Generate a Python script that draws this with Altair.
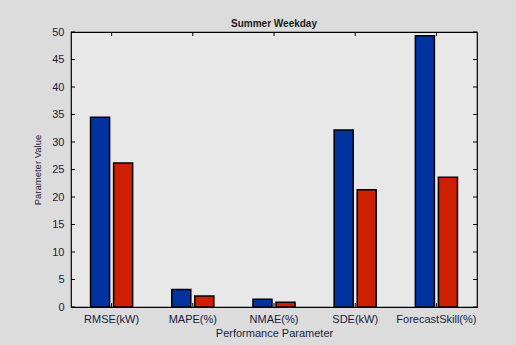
import altair as alt
import pandas as pd

# Performance parameters (x categories) and the two compared series
categories = ["RMSE(kW)", "MAPE(%)", "NMAE(%)", "SDE(kW)", "ForecastSkill(%)"]
series_names = ["Model A", "Model B"]
values_a = [34.5, 3.2, 1.4, 32.2, 49.3]
values_b = [26.2, 2.0, 0.85, 21.3, 23.6]
y_ticks = [0, 5, 10, 15, 20, 25, 30, 35, 40, 45, 50]

rows = []
for c, a, b in zip(categories, values_a, values_b):
    rows.append({"param": c, "series": series_names[0], "value": a})
    rows.append({"param": c, "series": series_names[1], "value": b})
bars_df = pd.DataFrame(rows)
ticks_df = pd.DataFrame({"v": y_ticks})
cat_df = pd.DataFrame({"param": categories})

W, H = 406, 275

x_scale = alt.Scale(domain=categories, paddingInner=0, paddingOuter=0)
y_scale = alt.Scale(domain=[0, 50], nice=False)

# Shared axis definitions, used identically by every layer so they merge cleanly
x_axis = alt.Axis(
    labelAngle=0,
    ticks=False,
    domain=False,
    labelPadding=6,
    labelFontSize=11,
    titleFontSize=11,
    titlePadding=3,
    labelColor="#1a1a40",
    titleColor="#1a1a40",
    titleFontWeight="normal",
)
y_axis = alt.Axis(
    values=y_ticks,
    labelOverlap=False,
    ticks=False,
    domain=False,
    grid=False,
    labelPadding=7,
    labelFontSize=11,
    titleFontSize=9.5,
    titlePadding=9,
    labelColor="#1a1a40",
    titleColor="#1a1a40",
    titleFontWeight="normal",
)
X_TITLE = "Performance Parameter"
Y_TITLE = "Parameter Value"

bars = alt.Chart(bars_df).mark_bar(stroke="black", strokeWidth=1.5).encode(
    x=alt.X("param:N", sort=categories, scale=x_scale, title=X_TITLE, axis=x_axis),
    xOffset=alt.XOffset(
        "series:N",
        sort=series_names,
        scale=alt.Scale(paddingInner=0.174, paddingOuter=0.848),
    ),
    y=alt.Y("value:Q", scale=y_scale, title=Y_TITLE, axis=y_axis),
    color=alt.Color(
        "series:N",
        sort=series_names,
        scale=alt.Scale(domain=series_names, range=["#0033a0", "#cc2000"]),
        legend=None,
    ),
)

# Inward-pointing tick marks on the left and right edges of the frame
left_ticks = alt.Chart(ticks_df).mark_rule(color="black", strokeWidth=1).encode(
    y=alt.Y("v:Q", scale=y_scale, title=Y_TITLE, axis=y_axis),
    x=alt.value(0),
    x2=alt.value(4),
)
right_ticks = alt.Chart(ticks_df).mark_rule(color="black", strokeWidth=1).encode(
    y=alt.Y("v:Q", scale=y_scale, title=Y_TITLE, axis=y_axis),
    x=alt.value(W - 4),
    x2=alt.value(W),
)
# Inward ticks on the top and bottom edges at each category centre
top_ticks = alt.Chart(cat_df).mark_rule(color="black", strokeWidth=1).encode(
    x=alt.X("param:N", sort=categories, scale=x_scale, bandPosition=0.5,
            title=X_TITLE, axis=x_axis),
    y=alt.value(0),
    y2=alt.value(4),
)
bottom_ticks = alt.Chart(cat_df).mark_rule(color="black", strokeWidth=1).encode(
    x=alt.X("param:N", sort=categories, scale=x_scale, bandPosition=0.5,
            title=X_TITLE, axis=x_axis),
    y=alt.value(H - 4),
    y2=alt.value(H),
)

chart = (
    alt.layer(bars, left_ticks, right_ticks, top_ticks, bottom_ticks)
    .properties(
        width=W,
        height=H,
        title=alt.TitleParams(
            "Summer Weekday", fontSize=10, fontWeight="bold", offset=-3, color="#1a1a1a"
        ),
        autosize=alt.AutoSizeParams(type="none"),
        padding={"left": 71, "top": 32, "right": 39, "bottom": 38},
        background="#dcdcdc",
    )
    .configure(font="Liberation Sans")
    .configure_view(stroke="black", strokeWidth=1.2, fill="#e8e8e8")
    .configure_axis(labelFont="Liberation Sans", titleFont="Liberation Sans")
    .configure_title(font="Liberation Sans", anchor="middle")
)

chart.save("out.html", embed_options={"renderer": "svg", "actions": False})
